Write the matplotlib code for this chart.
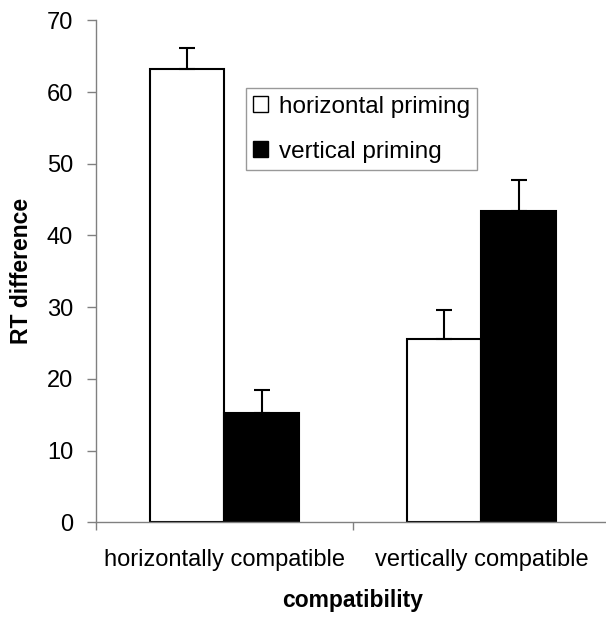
import numpy as np
import matplotlib
matplotlib.use('Agg')
import matplotlib.pyplot as plt
from matplotlib.patches import Patch

plt.rcParams['font.family'] = ['Liberation Sans', 'DejaVu Sans']

# data
categories = ['horizontally compatible', 'vertically compatible']
series_names = ['horizontal priming', 'vertical priming']
horizontal_priming = [63.2, 25.5]
vertical_priming = [15.2, 43.4]
horizontal_err = [3.0, 4.15]
vertical_err = [3.3, 4.4]
y_ticks = [0, 10, 20, 30, 40, 50, 60, 70]

fig = plt.figure(figsize=(6.06, 6.17), dpi=100)
ax = fig.add_axes([0.1584, 0.1535, 0.848, 0.8136])

x = np.arange(len(categories))
w = 0.29
axis_grey = '#808080'

ax.bar(x - w / 2, horizontal_priming, w, color='white', edgecolor='black', linewidth=1.5, zorder=2)
ax.bar(x + w / 2, vertical_priming, w, color='black', edgecolor='black', linewidth=1.5, zorder=2)

# only the upper half of each error bar is shown
ax.errorbar(x - w / 2, horizontal_priming, yerr=[np.zeros(2), horizontal_err],
            fmt='none', ecolor='black', elinewidth=1.5, capsize=5.5, capthick=1.5, zorder=3)
ax.errorbar(x + w / 2, vertical_priming, yerr=[np.zeros(2), vertical_err],
            fmt='none', ecolor='black', elinewidth=1.5, capsize=5.5, capthick=1.5, zorder=3)

ax.set_xlim(-0.5, 1.5)
ax.set_ylim(0, 70)
ax.set_yticks(y_ticks)
ax.tick_params(axis='y', direction='out', length=6.5, width=1, color=axis_grey,
               labelsize=17, pad=10)

# category boundaries as ticks, labels centred on the groups
ax.set_xticks([-0.5, 0.5, 1.5])
ax.set_xticklabels([])
ax.set_xticks(x, minor=True)
ax.set_xticklabels(categories, minor=True)
ax.tick_params(axis='x', which='major', direction='out', length=6, width=1, color=axis_grey)
ax.tick_params(axis='x', which='minor', length=0, labelsize=17, pad=19)

for side in ['top', 'right']:
    ax.spines[side].set_visible(False)
for side in ['left', 'bottom']:
    ax.spines[side].set_color(axis_grey)
    ax.spines[side].set_linewidth(1)

ax.set_ylabel('RT difference', fontsize=16.5, fontweight='bold', labelpad=10)
ax.set_xlabel('compatibility', fontsize=16.5, fontweight='bold', labelpad=13)

handles = [Patch(facecolor='white', edgecolor='black', linewidth=1),
           Patch(facecolor='black', edgecolor='black', linewidth=1)]
leg = ax.legend(handles, series_names, loc='upper left', bbox_to_anchor=(0.292, 0.8645),
                fontsize=17.5, frameon=True, fancybox=False, edgecolor=axis_grey,
                handlelength=0.6, handleheight=0.6, handletextpad=0.45,
                labelspacing=0.95, borderpad=0.3, borderaxespad=0)
leg.get_frame().set_linewidth(1)

fig.savefig('out.png', dpi=100)
